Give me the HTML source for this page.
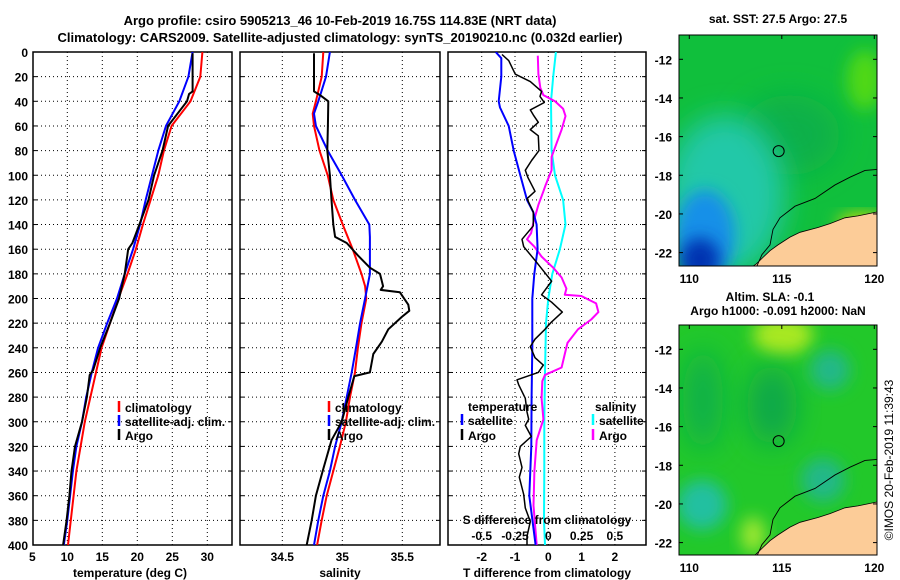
<!DOCTYPE html>
<html><head><meta charset="utf-8"><style>
html,body{margin:0;padding:0;background:#fff;overflow:hidden;width:900px;height:580px;}
svg{display:block;font-family:"Liberation Sans",sans-serif;font-weight:bold;}
</style></head><body>
<svg id="fig" width="900" height="580" viewBox="0 0 900 580">
<defs>
<filter id="bl" x="-50%" y="-50%" width="200%" height="200%"><feGaussianBlur stdDeviation="14"/></filter>
<filter id="bl2" x="-50%" y="-50%" width="200%" height="200%"><feGaussianBlur stdDeviation="8"/></filter>
<clipPath id="m1c"><rect x="679" y="35" width="198" height="231"/></clipPath>
<clipPath id="m2c"><rect x="679" y="325" width="198" height="230"/></clipPath>
<clipPath id="p1c"><rect x="33" y="52" width="199" height="493"/></clipPath>
<clipPath id="p2c"><rect x="240" y="52" width="200" height="493"/></clipPath>
<clipPath id="p3c"><rect x="448" y="52" width="198" height="493"/></clipPath>
</defs>
<text x="340" y="25" font-size="13" text-anchor="middle">Argo profile: csiro 5905213_46 10-Feb-2019 16.75S 114.83E (NRT data)</text>
<text x="340" y="42" font-size="13" text-anchor="middle">Climatology: CARS2009. Satellite-adjusted climatology: synTS_20190210.nc (0.032d earlier)</text>
<g id="maps"></g>
<g id="panels"></g>
<text transform="translate(893,460) rotate(-90)" font-size="12" font-weight="normal" text-anchor="middle">©IMOS 20-Feb-2019 11:39:43</text>
</svg>
<script>
// ---- data ----
const depthGrid = [0,20,40,60,80,100,120,140,160,180,200,220,240,260,280,300,320,340,360,380,400];
const tempClim = [29.3,29.0,27.6,24.9,23.8,23.0,21.9,20.8,19.8,18.6,17.3,16.1,14.9,14.1,13.3,12.5,11.9,11.3,10.9,10.5,10.1];
const tempSat = [27.9,27.3,26.0,24.1,23.0,22.1,21.2,20.4,19.4,18.2,17.1,15.7,14.4,13.5,12.7,12.1,11.3,10.8,10.4,10.0,9.5];
const argoTDepth = [1,32,34,40,60,80,100,120,140,155,160,180,200,220,240,258,262,280,300,320,340,360,380,400];
const argoTemp = [27.9,27.9,27.4,27.1,24.4,23.6,22.4,21.6,20.3,19.3,18.7,18.2,17.4,16.1,14.7,13.7,13.2,12.8,12.1,11.1,10.6,10.3,9.9,9.4];
const salDepth = [0,20,40,50,60,80,100,120,140,160,180,190,200,220,240,260,280,300,320,340,360,380,400];
const salClim = [34.842,34.828,34.78,34.753,34.764,34.81,34.878,34.925,35.003,35.087,35.16,35.19,35.2,35.16,35.13,35.106,35.064,35.03,34.98,34.925,34.87,34.828,34.79];
const salSatDepth = [0,20,40,50,60,80,100,120,140,150,180,200,220,240,260,280,300,320,340,360,380,400];
const salSat = [34.897,34.864,34.8,34.764,34.78,34.878,34.995,35.106,35.225,35.23,35.23,35.19,35.148,35.114,35.078,35.037,34.995,34.94,34.897,34.842,34.8,34.764];
const argoSDepth = [1,32,35,40,60,80,100,120,140,150,155,165,175,180,190,193,195,205,210,215,225,235,245,260,263,280,300,315,340,360,380,400];
const argoSal = [34.764,34.764,34.814,34.883,34.88,34.875,34.897,34.91,34.925,34.94,35.037,35.13,35.23,35.314,35.34,35.32,35.48,35.55,35.558,35.495,35.383,35.33,35.258,35.23,35.1,35.05,34.995,34.91,34.837,34.78,34.745,34.703];
const dTSatDepth = [0,5,20,40,45,60,80,100,120,130,140,160,180,200,240,280,320,360,400];
const dTSat = [-1.58,-1.41,-1.41,-1.49,-1.45,-1.19,-1.04,-0.84,-0.64,-0.45,-0.35,-0.32,-0.42,-0.48,-0.48,-0.5,-0.51,-0.57,-0.38];
const dTArgoDepth = [2,7,18,24,32,36,41,47,51,57,63,68,80,88,96,102,113,119,130,141,152,158,169,186,197,203,211,219,225,233,239,248,254,260,266,270,281,292,298,303,312,320,326,337,345,359,370,381,393,400];
const dTArgo = [-1.39,-1.19,-0.99,-0.54,-0.2,-0.25,-0.12,-0.54,-0.45,-0.3,-0.54,-0.3,-0.28,-0.5,-0.69,-0.61,-0.4,-0.64,-0.45,-0.45,-0.79,-0.74,-0.4,0.1,-0.2,0.1,0.42,0.1,-0.1,-0.4,-0.54,-0.4,-0.15,-0.3,-0.94,-0.89,-0.69,-0.64,-0.59,-0.69,-0.51,-0.84,-0.89,-0.79,-0.87,-0.74,-0.69,-0.54,-0.64,-0.64];
const dSSatDepth = [0,20,40,80,100,120,140,160,180,200,220,260,300,340,380,400];
const dSSat = [0.057,0.037,0.02,0.025,0.05,0.111,0.129,0.087,0.03,0,-0.017,-0.025,-0.03,-0.03,-0.032,-0.025];
const dSArgoDepth = [3,18,29,35,40,46,52,63,74,85,96,108,113,124,138,147,152,158,166,175,183,192,197,198,204,211,217,225,236,245,256,262,267,281,298,315,340,368,400];
const dSArgo = [-0.079,-0.074,-0.06,-0.037,0.05,0.111,0.129,0.1,0.062,0.025,0.025,-0.02,-0.037,-0.074,-0.111,-0.129,-0.16,-0.104,-0.05,0.037,0.1,0.136,0.124,0.248,0.359,0.376,0.322,0.223,0.144,0.124,0.1,-0.025,-0.045,-0.05,-0.037,-0.087,-0.104,-0.111,-0.087];
const tTicks = [5,10,15,20,25,30];
const sTicks = [34.5,35,35.5];
const dtTicks = [-2,-1,0,1,2];
const dsTicks = [-0.5,-0.25,0,0.25,0.5];
const dsTickLabels = ["-0.5","-0.25","0","0.25","0.5"];
const latTicks = [-12,-14,-16,-18,-20,-22];
const lonTicks = [110,115,120];

const NS='http://www.w3.org/2000/svg';
const G=document.getElementById('panels');
const M=document.getElementById('maps');
function mk(tag,attrs,parent){const e=document.createElementNS(NS,tag);for(const k in attrs)e.setAttribute(k,attrs[k]);(parent||G).appendChild(e);return e;}
function txt(x,y,s,size,anchor,parent){const t=mk('text',{x:x,y:y,'font-size':size||12,'text-anchor':anchor||'middle'},parent);t.textContent=s;return t;}
const yD = d => 52 + d*1.2325;
const xT = v => 32.3 + (v-5)*7;
const xS = v => 282.3 + (v-34.5)*120;
const xDT = v => 548.3 + v*33.3;
const xDS = v => 548.3 + v*4*33.3;

function frame(x0,x1,xs,name){
  const g=mk('g',{});
  
  
  for(let d=20; d<400; d+=20){
    const l=mk('line',{x1:x0,x2:x1,y1:yD(d),y2:yD(d),stroke:'#000','stroke-width':1,'stroke-dasharray':'1,3'},g);
    
    
    mk('line',{x1:x0,x2:x0+4,y1:yD(d),y2:yD(d),stroke:'#000'},g);
    mk('line',{x1:x1-4,x2:x1,y1:yD(d),y2:yD(d),stroke:'#000'},g);
  }
  xs.forEach(x=>{
    const l=mk('line',{x1:x,x2:x,y1:52,y2:545,stroke:'#000','stroke-width':1,'stroke-dasharray':'1,3'},g);
    
    
  });
  const r=mk('rect',{x:x0,y:52,width:x1-x0,height:493,fill:'none',stroke:'#000','stroke-width':1.5},g);
  
  
  return g;
}
function line(xs,ds,fx,color,w,clip,name){
  const pts=xs.map((v,i)=>fx(v).toFixed(1)+','+yD(ds[i]).toFixed(1)).join(' ');
  const p=mk('polyline',{points:pts,fill:'none',stroke:color,'stroke-width':w,'clip-path':'url(#'+clip+')','stroke-linejoin':'round'});
  
  
  return p;
}
function legEntry(x,y,color,label,name){
  const g=mk('g',{});
  
  
  mk('line',{x1:x,x2:x,y1:y-11,y2:y,stroke:color,'stroke-width':2.5},g);
  txt(x+6,y,label,12,'start',g);
}

frame(33,232,tTicks.map(xT).filter(x=>x>34),'temperature-panel');
line(tempClim,depthGrid,xT,'#f00',2,'p1c','temp-climatology-line');
line(tempSat,depthGrid,xT,'#00f',2,'p1c','temp-satellite-line');
line(argoTemp,argoTDepth,xT,'#000',2,'p1c','temp-argo-line');
tTicks.forEach(v=>txt(xT(v),561,String(v),12));
txt(130,577,'temperature (deg C)',12);
for(let d=0; d<=400; d+=20){txt(28,yD(d)+5,String(d),12,'end');}
legEntry(119,412,'#f00','climatology','legend-climatology');
legEntry(119,426,'#00f','satellite-adj. clim.','legend-satellite-adj');
legEntry(119,440,'#000','Argo','legend-argo');

frame(240,440,sTicks.map(xS),'salinity-panel');
line(salClim,salDepth,xS,'#f00',2,'p2c','sal-climatology-line');
line(salSat,salSatDepth,xS,'#00f',2,'p2c','sal-satellite-line');
line(argoSal,argoSDepth,xS,'#000',2,'p2c','sal-argo-line');
sTicks.forEach(v=>txt(xS(v),561,String(v),12));
txt(340,577,'salinity',12);
legEntry(329,412,'#f00','climatology','legend-sal-climatology');
legEntry(329,426,'#00f','satellite-adj. clim.','legend-sal-satellite-adj');
legEntry(329,440,'#000','Argo','legend-sal-argo');

frame(448,646,dtTicks.map(xDT),'difference-panel');
line(dSSat,dSSatDepth,xDS,'#0ff',2,'p3c','sal-diff-satellite-line');
line(dSArgo,dSArgoDepth,xDS,'#f0f',2,'p3c','sal-diff-argo-line');
line(dTSat,dTSatDepth,xDT,'#00f',2,'p3c','temp-diff-satellite-line');
line(dTArgo,dTArgoDepth,xDT,'#000',1.5,'p3c','temp-diff-argo-line');
dtTicks.forEach(v=>txt(xDT(v),561,String(v),12));
txt(547,577,'T difference from climatology',12);
txt(547,524,'S difference from climatology',12);
dsTicks.forEach((v,i)=>txt(xDS(v),540,dsTickLabels[i],12));
txt(468,411,'temperature',12,'start');
legEntry(462,425,'#00f','satellite','legend-temp-diff-satellite');
legEntry(462,440,'#000','Argo','legend-temp-diff-argo');
txt(595,411,'salinity',12,'start');
legEntry(593,425,'#0ff','satellite','legend-sal-diff-satellite');
legEntry(593,440,'#f0f','Argo','legend-sal-diff-argo');

const lonX = v => 689.3 + (v-110)*18.5;
function mapPanel(top, bottom, lat12y, clip, kind, name, title1, title2){
  const g=mk('g',{},M);
  
  
  const latY = v => lat12y + (-12 - v)*19.33;
  const c=mk('g',{'clip-path':'url(#'+clip+')'},g);
  if(kind==='sst'){
    mk('rect',{x:679,y:top,width:198,height:bottom-top,fill:'#10bf3c'},c);
    mk('ellipse',{cx:790,cy:top+100,rx:50,ry:40,fill:'#0cb048',filter:'url(#bl)'},c);
    mk('ellipse',{cx:865,cy:top+45,rx:18,ry:30,fill:'#50d818',filter:'url(#bl2)'},c);
    mk('ellipse',{cx:725,cy:top+160,rx:60,ry:80,fill:'#22c8a8',filter:'url(#bl)'},c);
    mk('ellipse',{cx:705,cy:top+200,rx:30,ry:45,fill:'#1890e8',filter:'url(#bl2)'},c);
    mk('ellipse',{cx:700,cy:top+225,rx:20,ry:22,fill:'#0030b0',filter:'url(#bl2)'},c);
    mk('ellipse',{cx:862,cy:top+188,rx:25,ry:8,fill:'#e8e000',filter:'url(#bl2)'},c);
  } else {
    mk('rect',{x:679,y:top,width:198,height:bottom-top,fill:'#22c82a'},c);
    mk('ellipse',{cx:783,cy:top+10,rx:30,ry:20,fill:'#a8e820',filter:'url(#bl2)'},c);
    mk('ellipse',{cx:703,cy:top+75,rx:20,ry:50,fill:'#10b048',filter:'url(#bl)'},c);
    mk('ellipse',{cx:772,cy:top+80,rx:25,ry:40,fill:'#10a848',filter:'url(#bl)'},c);
    mk('ellipse',{cx:830,cy:top+45,rx:20,ry:20,fill:'#20b888',filter:'url(#bl2)'},c);
    mk('ellipse',{cx:823,cy:top+155,rx:22,ry:22,fill:'#20b888',filter:'url(#bl2)'},c);
    mk('ellipse',{cx:702,cy:top+180,rx:25,ry:25,fill:'#20c0a0',filter:'url(#bl2)'},c);
    mk('ellipse',{cx:753,cy:top+210,rx:12,ry:18,fill:'#a0e830',filter:'url(#bl2)'},c);
    mk('ellipse',{cx:688,cy:top+270,rx:12,ry:15,fill:'#a0e830',filter:'url(#bl2)'},c);
  }
  const land=mk('path',{d:`M 877 ${latY(-19.9)} L 858 ${latY(-20.1)} L 845 ${latY(-20.2)} L 830 ${latY(-20.5)} L 818 ${latY(-20.7)} L 800 ${latY(-20.95)} L 790 ${latY(-21.2)} L 778 ${latY(-21.6)} L 770 ${latY(-21.9)} L 762 ${latY(-22.3)} L 756 ${latY(-22.6)} L 750 ${latY(-22.8)} L 748 ${bottom} L 877 ${bottom} Z`,fill:'#fccc98',stroke:'#000','stroke-width':0.8},c);
  
  
  const iso=mk('path',{d:`M 877 ${latY(-17.7)} L 865 ${latY(-17.75)} L 850 ${latY(-18.1)} L 835 ${latY(-18.5)} L 815 ${latY(-19.2)} L 795 ${latY(-19.6)} L 780 ${latY(-20.2)} L 773 ${latY(-20.8)} L 770 ${latY(-21.6)} L 762 ${latY(-22.1)} L 756 ${latY(-22.8)}`,fill:'none',stroke:'#000','stroke-width':0.9},c);
  
  
  const fr=mk('rect',{x:679,y:top,width:198,height:bottom-top,fill:'none',stroke:'#000','stroke-width':1},g);
  
  
  const ci=mk('circle',{cx:lonX(114.83),cy:latY(-16.75),r:5.5,fill:'none',stroke:'#000','stroke-width':1},g);
  
  
  latTicks.forEach(v=>{txt(672,latY(v)+5,String(v),12,'end',g);mk('line',{x1:679,x2:683,y1:latY(v),y2:latY(v),stroke:'#000'},g);mk('line',{x1:873,x2:877,y1:latY(v),y2:latY(v),stroke:'#000'},g);});
  lonTicks.forEach(v=>{txt(lonX(v),bottom+17,String(v),12,'middle',g);mk('line',{x1:lonX(v),x2:lonX(v),y1:top,y2:top+4,stroke:'#000'},g);});
  if(title2){txt(770,top-24,title1,12,'middle',g);txt(778,top-10,title2,12,'middle',g);}
  else txt(778,top-12,title1,12,'middle',g);
}
mapPanel(35,266,59.3,'m1c','sst','sst-map','sat. SST: 27.5 Argo: 27.5');
mapPanel(325,555,349.3,'m2c','sla','sla-map','Altim. SLA: -0.1','Argo h1000: -0.091 h2000: NaN');
</script>
</body></html>
